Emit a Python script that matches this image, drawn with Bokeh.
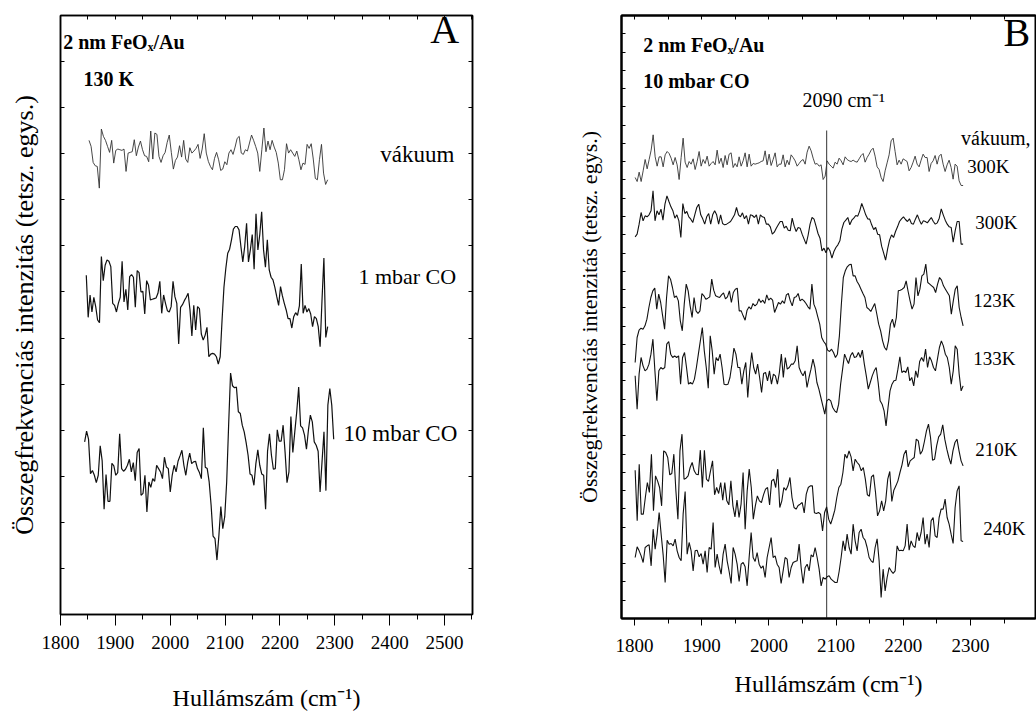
import numpy as np
from bokeh.plotting import figure
from bokeh.models import ColumnDataSource, Label, LinearAxis, FixedTicker, CustomJSTickFormatter
from bokeh.layouts import row
from bokeh.embed import file_html
from bokeh.resources import INLINE

FONT = "Liberation Serif"

# ---------------- Panel A data (2 nm FeOx/Au, 130 K) ----------------
# intensities in arbitrary units; each spectrum on a uniform wavenumber grid
a_vakuum_span = (1852, 2287)
a_vakuum_offset = 1242
a_vakuum = [178,160,112,102,100,35,212,190,178,160,142,178,110,148,152,150,148,152,85,140,142,144,180,132,158,176,150,132,130,114,206,122,200,196,130,112,132,142,172,194,142,92,118,128,162,128,178,122,112,156,140,146,154,166,124,152,198,140,115,100,90,124,142,120,88,92,114,105,140,150,136,158,184,190,140,136,150,146,170,194,178,160,140,85,150,215,144,176,150,178,158,142,110,60,60,90,168,140,150,140,130,146,120,90,110,106,166,154,168,122,64,60,120,166,80,46,60]

a_1mbar_span = (1847, 2287)
a_1mbar_offset = 732
a_1mbar = [284,158,225,174,218,190,150,142,340,268,314,330,326,310,200,194,174,200,218,326,204,242,180,280,286,278,188,298,292,234,236,168,268,254,210,212,214,216,230,266,170,225,200,178,174,190,266,220,200,78,188,196,208,218,230,180,102,194,120,190,184,108,90,104,128,40,48,50,48,40,18,40,150,248,305,350,362,390,422,430,430,420,370,324,370,440,324,360,406,302,468,360,406,474,360,308,390,300,278,270,248,220,194,250,222,200,180,154,154,126,160,172,164,192,318,170,194,174,184,168,130,160,154,130,70,210,336,98,130]

a_10mbar_span = (1844, 2298)
a_10mbar_offset = 162
a_10mbar = [355,387,363,260,269,255,233,255,343,299,153,257,177,177,291,283,255,263,379,275,267,273,285,303,265,293,239,323,335,195,201,255,145,235,219,245,237,285,275,265,245,309,280,275,205,255,285,265,297,313,330,285,255,295,321,290,295,297,275,263,245,397,279,275,235,165,73,65,1,75,161,95,131,235,405,561,523,517,519,445,440,405,385,353,315,259,255,225,290,331,285,259,255,153,327,379,315,273,275,391,357,357,405,325,233,265,431,323,385,445,519,403,397,375,333,390,435,415,355,345,327,205,295,385,209,465,515,465,363]

a_xticks = [1800, 1900, 2000, 2100, 2200, 2300, 2400, 2500]

# ---------------- Panel B data (2 nm FeOx/Au, 10 mbar CO) ----------------
b_span = (1801, 2289)
b_line_wavenumber = 2086

b_vakuum_300K_offset = 1068
b_vakuum_300K = [255,243,271,243,275,309,281,309,337,383,317,289,317,317,287,323,333,327,313,293,315,293,249,315,373,301,285,303,295,311,279,303,333,289,309,297,319,289,297,303,293,337,297,313,285,321,293,325,329,285,297,287,317,289,305,329,287,325,289,297,295,297,299,303,305,335,293,325,291,309,329,287,295,295,323,287,307,293,323,315,305,289,297,305,309,295,331,349,335,313,295,297,289,293,249,259,305,295,289,283,301,295,313,305,293,317,309,305,303,307,303,301,311,321,327,301,315,325,337,343,319,287,279,255,243,275,299,323,365,373,333,293,307,295,311,307,303,275,285,301,319,295,287,307,325,315,315,273,297,305,321,295,319,325,295,273,293,307,285,250,295,289,245,231,231]

b_300K_offset = 1068
b_300K = [77,85,115,150,125,140,137,143,155,215,125,155,143,160,127,175,200,183,167,155,133,143,125,75,177,147,153,137,130,120,143,165,175,143,131,115,137,147,115,143,155,143,115,143,117,113,115,119,123,133,143,165,143,137,149,131,141,115,143,141,135,143,115,143,137,135,115,115,107,85,91,103,113,123,123,103,109,97,95,133,109,93,105,103,85,70,55,81,115,135,130,109,87,73,35,43,29,45,35,13,33,45,53,65,100,120,127,135,113,127,133,141,139,155,177,161,143,131,130,113,99,105,85,83,49,29,7,40,67,83,75,93,107,123,131,137,129,123,131,117,115,130,143,127,115,125,123,119,127,135,123,115,119,133,161,143,127,115,107,105,61,95,123,123,55,55]

b_123K_offset = 573
b_123K = [195,270,292,298,295,305,325,360,390,410,418,355,400,375,335,295,390,455,445,420,390,395,380,320,290,370,430,410,365,330,390,350,342,350,402,395,385,388,392,445,412,395,392,390,398,404,386,392,410,375,405,415,418,350,350,335,322,352,362,355,372,365,370,386,375,382,372,398,382,388,382,345,360,375,370,380,372,398,402,380,365,390,392,402,380,385,380,372,362,355,430,370,355,332,310,270,258,250,232,228,235,225,210,220,275,370,450,470,482,488,490,455,455,438,428,415,402,390,360,355,348,360,372,342,310,290,260,240,232,260,310,325,300,330,410,412,415,420,440,408,380,355,370,450,395,415,455,460,490,435,430,425,420,405,430,450,442,425,415,405,395,340,380,415,425,360,330,305]

b_133K_offset = 573
b_133K = [155,55,160,210,185,170,175,190,220,265,170,80,170,180,175,180,250,258,220,210,215,210,215,130,210,225,180,130,135,130,145,180,220,260,300,230,180,118,275,230,160,210,200,220,180,130,128,130,150,190,238,220,180,180,130,170,195,90,170,225,180,160,190,150,105,162,165,140,170,130,160,155,130,165,220,150,210,175,180,190,190,200,245,180,165,155,170,120,150,175,205,180,135,115,90,65,40,80,85,80,60,50,45,70,130,175,220,205,192,215,225,210,212,225,210,232,190,155,115,135,155,170,180,135,80,70,50,5,60,110,130,140,142,175,212,165,170,165,182,140,150,125,170,150,198,210,198,235,180,212,200,180,170,205,240,260,245,220,210,180,130,170,245,235,160,110,125]

b_210K_offset = 33
b_210K = [412,260,430,280,280,330,375,345,460,290,395,380,360,305,470,465,450,398,402,460,350,265,470,520,385,388,395,420,435,410,400,398,472,360,472,385,378,410,440,338,360,342,375,322,375,320,308,380,305,272,322,270,310,405,235,350,415,360,265,305,335,320,315,338,355,360,308,380,385,360,415,300,320,360,352,365,390,330,300,295,306,310,315,284,340,360,365,365,284,282,285,280,230,285,302,265,250,270,292,330,360,370,405,460,448,470,452,410,445,435,428,410,420,385,338,334,392,398,345,275,290,320,290,320,385,408,318,352,365,380,405,428,460,472,422,440,445,450,505,500,460,470,498,530,550,510,442,445,485,512,520,548,505,475,450,430,470,495,505,470,440,425]

b_240K_offset = 33
b_240K = [150,182,170,155,135,180,185,188,125,235,175,220,285,220,158,75,202,190,192,185,205,170,150,140,280,348,160,195,170,110,170,172,152,162,130,170,105,180,175,255,120,160,125,100,160,190,140,108,72,180,160,130,78,130,135,122,65,150,225,150,138,165,130,118,125,90,150,180,210,150,155,130,120,72,110,150,145,90,120,135,138,140,190,120,72,120,130,110,158,152,180,150,115,65,90,85,92,95,85,80,75,75,108,150,200,170,220,180,160,250,200,170,225,235,210,202,180,150,140,135,180,206,140,30,115,50,90,120,110,102,110,185,170,172,170,185,250,172,200,185,180,225,200,225,270,190,220,180,260,270,215,210,270,295,295,325,270,250,220,192,300,350,365,200,198]

b_xticks = [1800, 1900, 2000, 2100, 2200, 2300, 2400]

Y_TITLE = "Összegfrekvenciás intenzitás (tetsz. egys.)"
X_TITLE = "Hullámszám (cm⁻¹)"


def spectrum(span, offset, vals):
    v = np.asarray(vals, dtype=float)
    return ColumnDataSource(dict(x=np.linspace(span[0], span[1], len(v)), y=offset + v))


def blank(ax):
    ax.formatter = CustomJSTickFormatter(code="return ''")
    ax.major_label_text_font_size = "0px"
    ax.major_label_standoff = 0


def base_axis(ax, lw):
    ax.axis_line_color = "black"
    ax.axis_line_width = lw
    ax.major_tick_line_color = "black"
    ax.minor_tick_line_color = "black"
    ax.major_tick_line_width = 1
    ax.minor_tick_line_width = 1
    ax.major_label_text_font = FONT
    ax.major_label_text_color = "black"
    ax.axis_label_text_font = FONT
    ax.axis_label_text_font_style = "normal"
    ax.axis_label_text_color = "black"


def make_panel(xr, yr, fw, fh, bl, br, bt, bb, lw):
    p = figure(frame_width=fw, frame_height=fh, x_range=xr, y_range=yr,
               min_border_left=bl, min_border_right=br, min_border_top=bt, min_border_bottom=bb,
               output_backend="svg", toolbar_location=None)
    p.grid.visible = False
    p.outline_line_color = "black"
    p.outline_line_width = lw
    p.background_fill_color = "white"
    p.border_fill_color = "white"
    return p


def lab(p, x, y, text, size, bold=False):
    p.add_layout(Label(x=x, y=y, text=text, text_font=FONT, text_font_size=size,
                       text_font_style="bold" if bold else "normal", text_color="black",
                       text_align="left", text_baseline="middle"))


# ================= Panel A =================
A_YMAX = 1794
pA = make_panel((1800, 2551), (0, A_YMAX), 412, 599, 60, 88, 15, 99, 1.5)
xa = pA.xaxis[0]
base_axis(xa, 1.5)
xa.ticker = FixedTicker(ticks=a_xticks, minor_ticks=[t + 50 for t in a_xticks])
xa.major_tick_in = 0
xa.major_tick_out = 11
xa.minor_tick_in = 0
xa.minor_tick_out = 5
xa.major_label_text_font_size = "19px"
xa.major_label_standoff = 10
xa.axis_label = X_TITLE
xa.axis_label_text_font_size = "24px"
xa.axis_label_standoff = 33

ya = pA.yaxis[0]
base_axis(ya, 1.5)
a_yticks = [i * A_YMAX / 13 for i in range(14)]
ya.ticker = FixedTicker(ticks=a_yticks)
ya.major_tick_in = 4
ya.major_tick_out = 0
ya.minor_tick_in = 0
ya.minor_tick_out = 0
blank(ya)
ya.axis_label = Y_TITLE
ya.axis_label_text_font_size = "26px"
ya.axis_label_standoff = 22

topA = LinearAxis()
base_axis(topA, 1.5)
topA.ticker = FixedTicker(ticks=list(range(1800, 2551, 50)))
topA.major_tick_in = 4
topA.major_tick_out = 0
topA.minor_tick_in = 0
topA.minor_tick_out = 0
blank(topA)
pA.add_layout(topA, "above")

rightA = LinearAxis()
base_axis(rightA, 1.5)
rightA.ticker = FixedTicker(ticks=a_yticks)
rightA.major_tick_in = 4
rightA.major_tick_out = 0
rightA.minor_tick_in = 0
rightA.minor_tick_out = 0
blank(rightA)
pA.add_layout(rightA, "right")

pA.line("x", "y", source=spectrum(a_vakuum_span, a_vakuum_offset, a_vakuum), line_color="#333333", line_width=0.9)
pA.line("x", "y", source=spectrum(a_1mbar_span, a_1mbar_offset, a_1mbar), line_color="#111111", line_width=1.2)
pA.line("x", "y", source=spectrum(a_10mbar_span, a_10mbar_offset, a_10mbar), line_color="#111111", line_width=1.2)

# label positions (text centres)
lab(pA, 1805, (614 - 42) * 3, "2 nm FeOₓ/Au", "20px", bold=True)
lab(pA, 1842, (614 - 79) * 3, "130 K", "20px", bold=True)
lab(pA, 2474, (614 - 30) * 3, "A", "40px")
lab(pA, 2383, (614 - 155) * 3, "vákuum", "23px")
lab(pA, 2343, (614 - 277) * 3, "1 mbar CO", "22px")
lab(pA, 2316, (614 - 433) * 3, "10 mbar CO", "23px")

# ================= Panel B =================
B_YMAX = 1809
pB = make_panel((1780.7, 2396.7), (0, B_YMAX), 414, 603, 61, 1, 13, 97, 2)
xb = pB.xaxis[0]
base_axis(xb, 2)
xb.ticker = FixedTicker(ticks=b_xticks, minor_ticks=[t + 50 for t in b_xticks])
xb.major_tick_in = 0
xb.major_tick_out = 7
xb.minor_tick_in = 0
xb.minor_tick_out = 5
xb.major_label_text_font_size = "19px"
xb.major_label_standoff = 13
xb.axis_label = X_TITLE
xb.axis_label_text_font_size = "24px"
xb.axis_label_standoff = 16

yb = pB.yaxis[0]
base_axis(yb, 2)
b_yticks = [i * B_YMAX / 33 for i in range(34)]
yb.ticker = FixedTicker(ticks=b_yticks)
yb.major_tick_in = 4
yb.major_tick_out = 0
yb.minor_tick_in = 0
yb.minor_tick_out = 0
blank(yb)
yb.axis_label = Y_TITLE
yb.axis_label_text_font_size = "22px"
yb.axis_label_standoff = 20

topB = LinearAxis()
base_axis(topB, 2)
topB.ticker = FixedTicker(ticks=list(range(1800, 2400, 50)))
topB.major_tick_in = 4
topB.major_tick_out = 0
topB.minor_tick_in = 0
topB.minor_tick_out = 0
blank(topB)
pB.add_layout(topB, "above")

pB.segment(x0=[b_line_wavenumber], y0=[0], x1=[b_line_wavenumber], y1=[1464], line_color="#333333", line_width=1)

for vals, off, col, lw in [(b_vakuum_300K, b_vakuum_300K_offset, "#333333", 0.9),
                           (b_300K, b_300K_offset, "#111111", 1.1),
                           (b_123K, b_123K_offset, "#111111", 1.1),
                           (b_133K, b_133K_offset, "#111111", 1.1),
                           (b_210K, b_210K_offset, "#111111", 1.1),
                           (b_240K, b_240K_offset, "#111111", 1.1)]:
    pB.line("x", "y", source=spectrum(b_span, off, vals), line_color=col, line_width=lw)

lab(pB, 1813, (616 - 42) * 3, "2 nm FeOₓ/Au", "20px", bold=True)
lab(pB, 1813, (616 - 78) * 3, "10 mbar CO", "20px", bold=True)
lab(pB, 2349, (616 - 30) * 3, "B", "40px")
lab(pB, 2050, (616 - 97) * 3, "2090 cm⁻¹", "20px")
lab(pB, 2286, (616 - 135) * 3, "vákuum,", "20px")
lab(pB, 2295, (616 - 164) * 3, "300K", "19px")
lab(pB, 2307, (616 - 220) * 3, "300K", "19px")
lab(pB, 2304, (616 - 298) * 3, "123K", "19px")
lab(pB, 2304, (616 - 356) * 3, "133K", "19px")
lab(pB, 2307, (616 - 447) * 3, "210K", "19px")
lab(pB, 2319, (616 - 526) * 3, "240K", "19px")

layout = row(pA, pB)
open("out.html", "w").write(file_html(layout, INLINE))
